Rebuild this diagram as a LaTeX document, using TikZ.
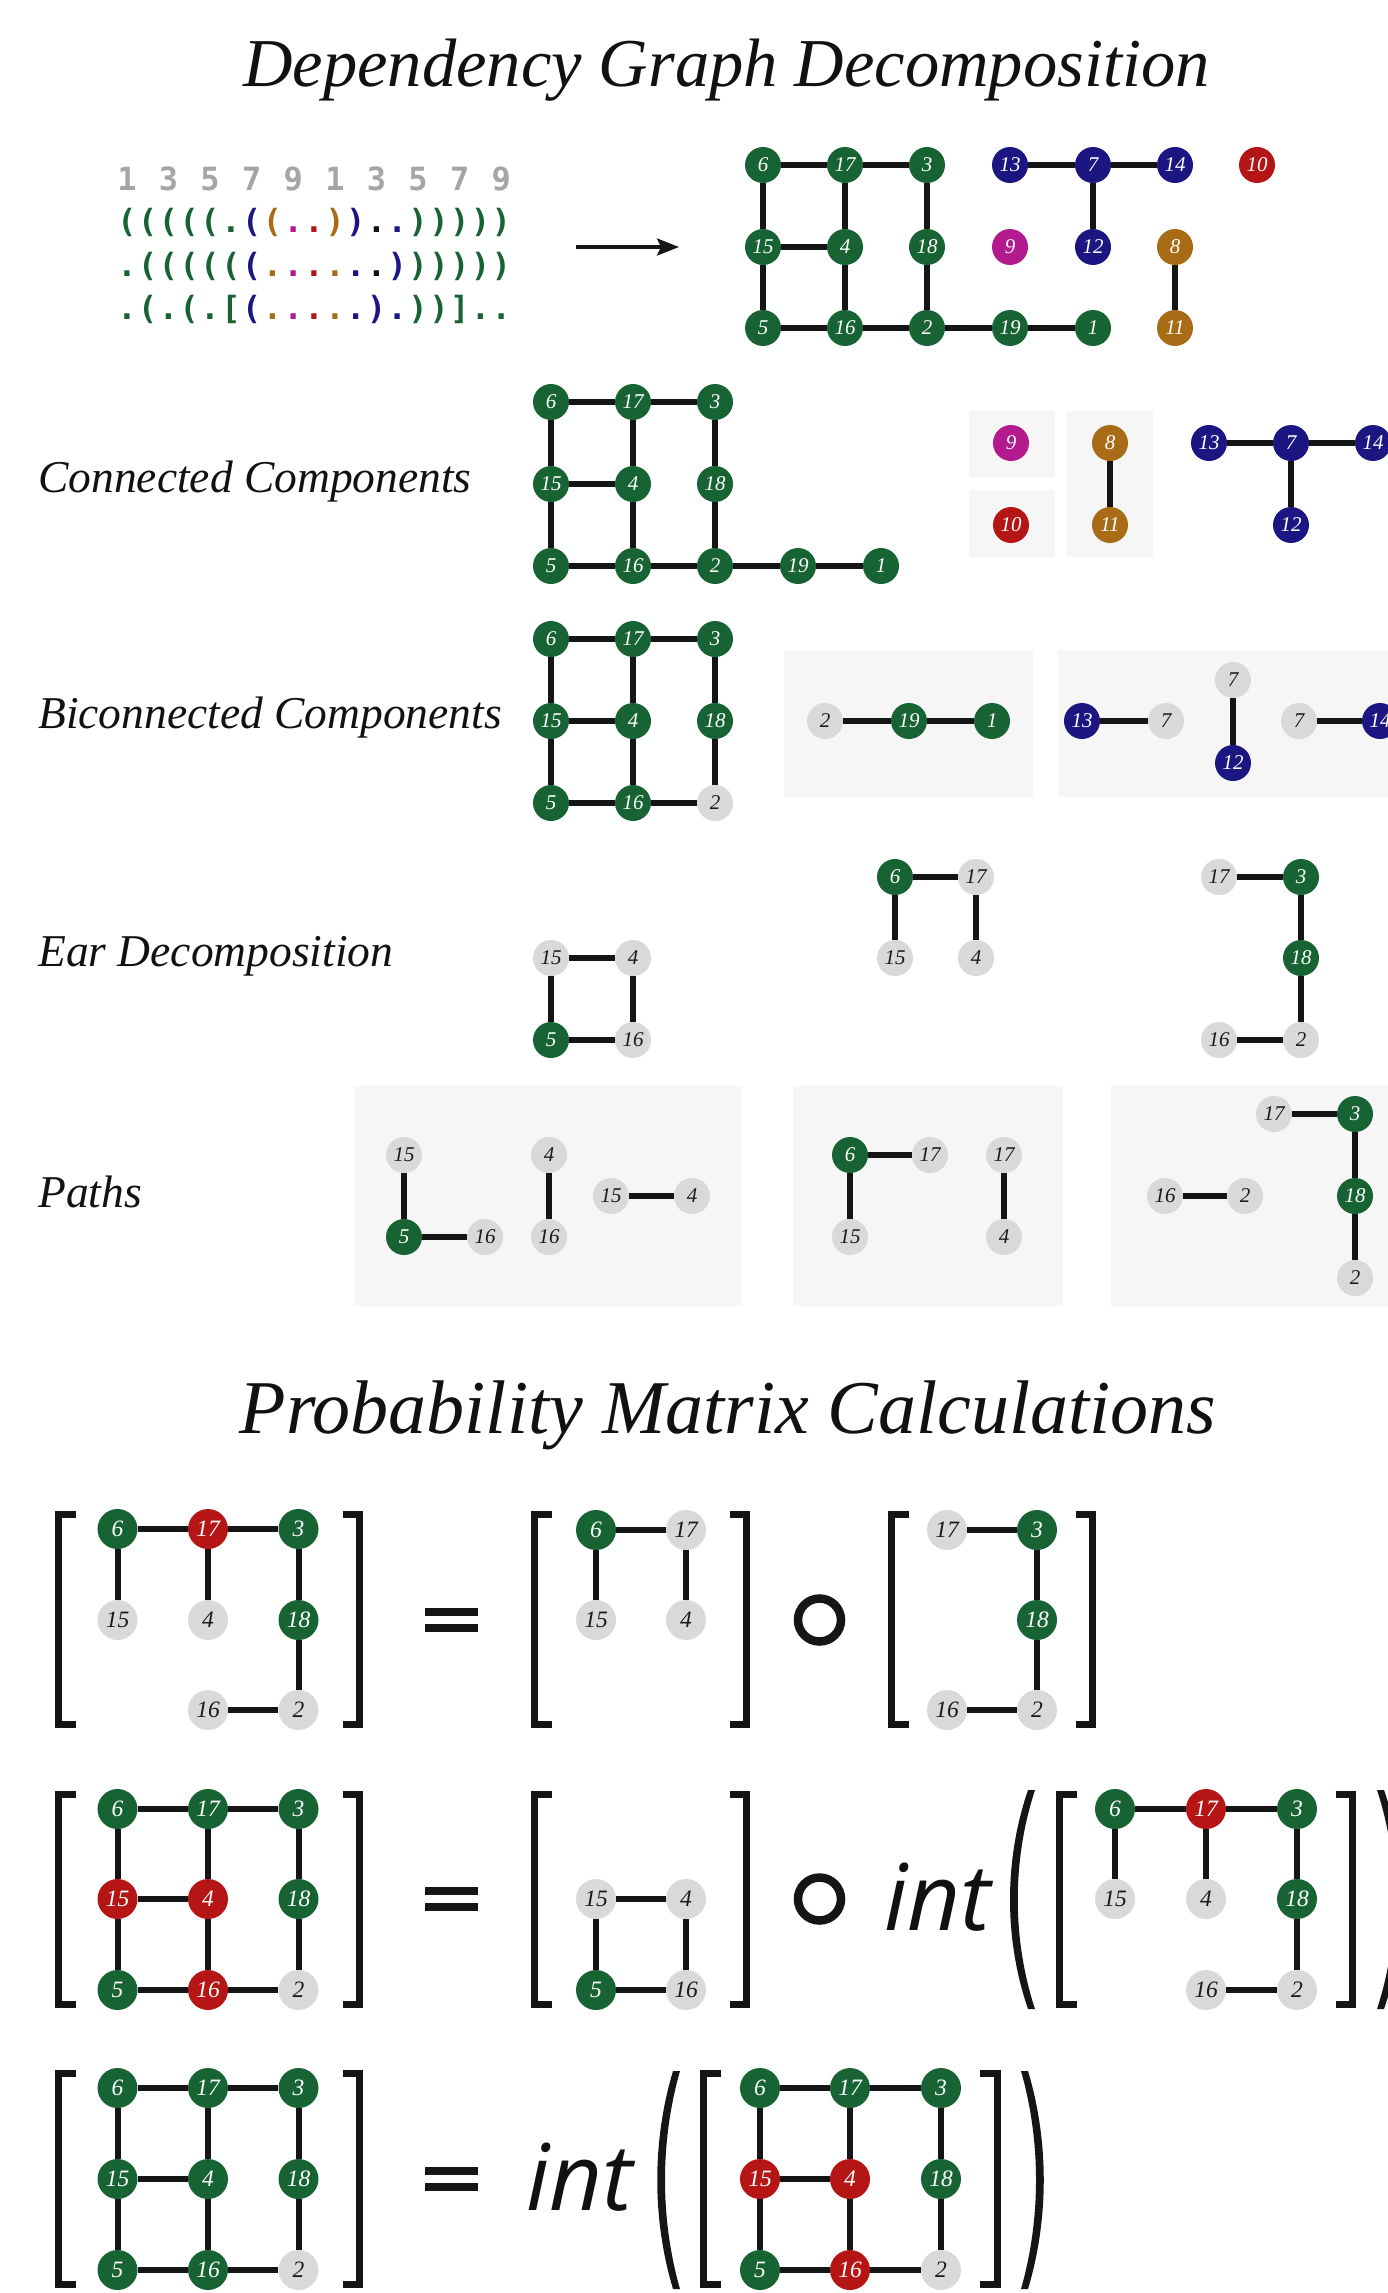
\documentclass[tikz,border=0pt]{standalone}
\usepackage{fontspec}
\setmainfont{Liberation Serif}
\newfontfamily\intfont{Open Sans}
\newfontfamily\seqfont{DejaVu Sans Mono}
\usetikzlibrary{arrows.meta}

\definecolor{cg}{HTML}{176334}
\definecolor{cb}{HTML}{1C1683}
\definecolor{cr}{HTML}{B51515}
\definecolor{cm}{HTML}{B31A8E}
\definecolor{co}{HTML}{A96C16}
\definecolor{cw}{HTML}{D9D9D9}
\definecolor{cwt}{HTML}{1A1A1A}
\definecolor{ce}{HTML}{151515}
\definecolor{cbox}{HTML}{F6F6F6}
\definecolor{ctxt}{HTML}{111111}
\definecolor{cdig}{HTML}{A5A5A5}
\definecolor{ck}{HTML}{111111}

\newcommand\sq[2]{\makebox[20.8pt]{\textcolor{#1}{#2}}}
\newcommand\edg[2]{\draw[ed] (#1) -- (#2);}
\newcommand\medg[2]{\draw[med] (#1) -- (#2);}
\newcommand\mbrk[4]{%
  \draw[brk] (#1+17,#3) -- (#1,#3) -- (#1,#4) -- (#1+17,#4);
  \draw[brk] (#2-17,#3) -- (#2,#3) -- (#2,#4) -- (#2-17,#4);}
\newcommand\eqsign[2]{%
  \fill[ce] (#1-26.5,#2-12) rectangle (#1+26.5,#2-4);
  \fill[ce] (#1-26.5,#2+4) rectangle (#1+26.5,#2+12);}
\newcommand\ring[2]{\draw[ce, line width=8.5pt] (#1,#2) circle [radius=21.5pt];}

\tikzset{
  nd/.style={circle, inner sep=0pt, minimum size=36pt, font=\fontsize{21}{21}\selectfont\itshape},
  mnd/.style={minimum size=40pt, font=\fontsize{23.5}{23.5}\selectfont\itshape},
  ngreen/.style={nd, fill=cg, text=white},
  nnavy/.style={nd, fill=cb, text=white},
  nred/.style={nd, fill=cr, text=white},
  nmag/.style={nd, fill=cm, text=white},
  nbrown/.style={nd, fill=co, text=white},
  ngray/.style={nd, fill=cw, text=cwt},
  ed/.style={draw=ce, line width=5.5pt},
  med/.style={draw=ce, line width=6pt},
  brk/.style={draw=ce, line width=7pt, miter limit=10},
  boxbg/.style={fill=cbox},
  lbl/.style={anchor=base west, inner sep=0pt, font=\fontsize{45.5}{46}\selectfont\itshape, text=ctxt},
  ttl/.style={anchor=base, inner sep=0pt, text=ctxt},
  seq/.style={anchor=base west, inner sep=0pt, font=\seqfont\bfseries\fontsize{32}{32}\selectfont},
  intl/.style={anchor=base west, inner sep=0pt, font=\intfont\itshape\fontsize{92}{92}\selectfont, text=ctxt},
  paren/.style={fill=ce},
}

\begin{document}
\begin{tikzpicture}[x=1pt,y=-1pt]
\useasboundingbox (0,0) rectangle (1388,2293);
\clip (0,0) rectangle (1388,2293);
\fill[white] (0,0) rectangle (1388,2293);

% ---------------- titles ----------------
\node[ttl, font=\fontsize{68.5}{70}\selectfont\itshape] (title1) at (726.5,87) {Dependency Graph Decomposition};
\node[ttl, font=\fontsize{76}{78}\selectfont\itshape] (title2) at (728,1433) {Probability Matrix Calculations};

% ---------------- sequence ----------------
\node[seq] (sq0) at (116.3,190) {\sq{cdig}{1}\sq{cdig}{}\sq{cdig}{3}\sq{cdig}{}\sq{cdig}{5}\sq{cdig}{}\sq{cdig}{7}\sq{cdig}{}\sq{cdig}{9}\sq{cdig}{}\sq{cdig}{1}\sq{cdig}{}\sq{cdig}{3}\sq{cdig}{}\sq{cdig}{5}\sq{cdig}{}\sq{cdig}{7}\sq{cdig}{}\sq{cdig}{9}};
\node[seq] (sq1) at (116.3,233) {\sq{cg}{(}\sq{cg}{(}\sq{cg}{(}\sq{cg}{(}\sq{cg}{(}\sq{cg}{.}\sq{cb}{(}\sq{co}{(}\sq{cm}{.}\sq{cr}{.}\sq{co}{)}\sq{cb}{)}\sq{ck}{.}\sq{cb}{.}\sq{cg}{)}\sq{cg}{)}\sq{cg}{)}\sq{cg}{)}\sq{cg}{)}};
\node[seq] (sq2) at (116.3,276) {\sq{cg}{.}\sq{cg}{(}\sq{cg}{(}\sq{cg}{(}\sq{cg}{(}\sq{cg}{(}\sq{cb}{(}\sq{co}{.}\sq{cm}{.}\sq{cr}{.}\sq{co}{.}\sq{cb}{.}\sq{ck}{.}\sq{cb}{)}\sq{cg}{)}\sq{cg}{)}\sq{cg}{)}\sq{cg}{)}\sq{cg}{)}};
\node[seq] (sq3) at (116.3,319) {\sq{cg}{.}\sq{cg}{(}\sq{cg}{.}\sq{cg}{(}\sq{cg}{.}\sq{cg}{[}\sq{cb}{(}\sq{co}{.}\sq{cm}{.}\sq{cr}{.}\sq{co}{.}\sq{cb}{.}\sq{cb}{)}\sq{cb}{.}\sq{cg}{)}\sq{cg}{)}\sq{cg}{]}\sq{cg}{.}\sq{cg}{.}};

\coordinate (arA) at (576,247);
\coordinate (arB) at (679,247);
\draw[ce, line width=3.5pt, -{Stealth[length=22pt,width=17pt,inset=4pt]}] (arA) -- (arB);

% ---------------- top graph ----------------
\node[ngreen] (t6) at (763,165) {6};
\node[ngreen] (t17) at (845,165) {17};
\node[ngreen] (t3) at (927,165) {3};
\node[nnavy] (t13) at (1010,165) {13};
\node[nnavy] (t7) at (1093,165) {7};
\node[nnavy] (t14) at (1175,165) {14};
\node[nred] (t10) at (1257,165) {10};
\node[ngreen] (t15) at (763,247) {15};
\node[ngreen] (t4) at (845,247) {4};
\node[ngreen] (t18) at (927,247) {18};
\node[nmag] (t9) at (1010,247) {9};
\node[nnavy] (t12) at (1093,247) {12};
\node[nbrown] (t8) at (1175,247) {8};
\node[ngreen] (t5) at (763,328) {5};
\node[ngreen] (t16) at (845,328) {16};
\node[ngreen] (t2) at (927,328) {2};
\node[ngreen] (t19) at (1010,328) {19};
\node[ngreen] (t1) at (1093,328) {1};
\node[nbrown] (t11) at (1175,328) {11};
\edg{t6}{t17}\edg{t17}{t3}\edg{t15}{t4}\edg{t5}{t16}\edg{t16}{t2}\edg{t2}{t19}\edg{t19}{t1}
\edg{t6}{t15}\edg{t15}{t5}\edg{t17}{t4}\edg{t4}{t16}\edg{t3}{t18}\edg{t18}{t2}
\edg{t13}{t7}\edg{t7}{t14}\edg{t7}{t12}\edg{t8}{t11}

% ---------------- connected components ----------------
\node[lbl] (lab1) at (38,492) {Connected Components};
\fill[boxbg] (969,411) rectangle (1055,477);
\fill[boxbg] (969,490) rectangle (1055,557);
\fill[boxbg] (1066,411) rectangle (1153,557);
\node[ngreen] (c6) at (551,402) {6};
\node[ngreen] (c17) at (633,402) {17};
\node[ngreen] (c3) at (715,402) {3};
\node[ngreen] (c15) at (551,484) {15};
\node[ngreen] (c4) at (633,484) {4};
\node[ngreen] (c18) at (715,484) {18};
\node[ngreen] (c5) at (551,566) {5};
\node[ngreen] (c16) at (633,566) {16};
\node[ngreen] (c2) at (715,566) {2};
\node[ngreen] (c19) at (798,566) {19};
\node[ngreen] (c1) at (881,566) {1};
\node[nmag] (c9) at (1011,443) {9};
\node[nred] (c10) at (1011,525) {10};
\node[nbrown] (c8) at (1110,443) {8};
\node[nbrown] (c11) at (1110,525) {11};
\node[nnavy] (c13) at (1209,443) {13};
\node[nnavy] (c7) at (1291,443) {7};
\node[nnavy] (c14) at (1373,443) {14};
\node[nnavy] (c12) at (1291,525) {12};
\edg{c6}{c17}\edg{c17}{c3}\edg{c15}{c4}\edg{c5}{c16}\edg{c16}{c2}\edg{c2}{c19}\edg{c19}{c1}
\edg{c6}{c15}\edg{c15}{c5}\edg{c17}{c4}\edg{c4}{c16}\edg{c3}{c18}\edg{c18}{c2}
\edg{c8}{c11}\edg{c13}{c7}\edg{c7}{c14}\edg{c7}{c12}

% ---------------- biconnected components ----------------
\node[lbl] (lab2) at (38,728) {Biconnected Components};
\fill[boxbg] (784,650) rectangle (1033,797);
\fill[boxbg] (1058,650) rectangle (1388,797);
\node[ngreen] (b6) at (551,639) {6};
\node[ngreen] (b17) at (633,639) {17};
\node[ngreen] (b3) at (715,639) {3};
\node[ngreen] (b15) at (551,721) {15};
\node[ngreen] (b4) at (633,721) {4};
\node[ngreen] (b18) at (715,721) {18};
\node[ngreen] (b5) at (551,803) {5};
\node[ngreen] (b16) at (633,803) {16};
\node[ngray] (b2) at (715,803) {2};
\edg{b6}{b17}\edg{b17}{b3}\edg{b15}{b4}\edg{b5}{b16}\edg{b16}{b2}
\edg{b6}{b15}\edg{b15}{b5}\edg{b17}{b4}\edg{b4}{b16}\edg{b3}{b18}\edg{b18}{b2}
\node[ngray] (bx2) at (825,721) {2};
\node[ngreen] (b19) at (909,721) {19};
\node[ngreen] (b1) at (992,721) {1};
\edg{bx2}{b19}\edg{b19}{b1}
\node[nnavy] (b13) at (1082,721) {13};
\node[ngray] (b7a) at (1166,721) {7};
\node[ngray] (b7b) at (1233,680) {7};
\node[nnavy] (b12) at (1233,763) {12};
\node[ngray] (b7c) at (1299,721) {7};
\node[nnavy] (b14) at (1380,721) {14};
\edg{b13}{b7a}\edg{b7b}{b12}\edg{b7c}{b14}

% ---------------- ear decomposition ----------------
\node[lbl] (lab3) at (38,966) {Ear Decomposition};
\node[ngray] (e15) at (551,958) {15};
\node[ngray] (e4) at (633,958) {4};
\node[ngreen] (e5) at (551,1040) {5};
\node[ngray] (e16) at (633,1040) {16};
\edg{e15}{e4}\edg{e15}{e5}\edg{e4}{e16}\edg{e5}{e16}
\node[ngreen] (f6) at (895,877) {6};
\node[ngray] (f17) at (976,877) {17};
\node[ngray] (f15) at (895,958) {15};
\node[ngray] (f4) at (976,958) {4};
\edg{f6}{f17}\edg{f6}{f15}\edg{f17}{f4}
\node[ngray] (h17) at (1219,877) {17};
\node[ngreen] (h3) at (1301,877) {3};
\node[ngreen] (h18) at (1301,958) {18};
\node[ngray] (h16) at (1219,1040) {16};
\node[ngray] (h2) at (1301,1040) {2};
\edg{h17}{h3}\edg{h3}{h18}\edg{h18}{h2}\edg{h16}{h2}

% ---------------- paths ----------------
\node[lbl] (lab4) at (38,1207) {Paths};
\fill[boxbg] (354,1086) rectangle (742,1306);
\fill[boxbg] (793,1086) rectangle (1063,1306);
\fill[boxbg] (1111,1086) rectangle (1388,1306);
\node[ngray] (pa15) at (404,1155) {15};
\node[ngreen] (pa5) at (404,1237) {5};
\node[ngray] (pa16) at (485,1237) {16};
\node[ngray] (pb4) at (549,1155) {4};
\node[ngray] (pb16) at (549,1237) {16};
\node[ngray] (pc15) at (611,1196) {15};
\node[ngray] (pc4) at (692,1196) {4};
\edg{pa15}{pa5}\edg{pa5}{pa16}\edg{pb4}{pb16}\edg{pc15}{pc4}
\node[ngreen] (pd6) at (850,1155) {6};
\node[ngray] (pd17) at (930,1155) {17};
\node[ngray] (pd15) at (850,1237) {15};
\node[ngray] (pe17) at (1004,1155) {17};
\node[ngray] (pe4) at (1004,1237) {4};
\edg{pd6}{pd17}\edg{pd6}{pd15}\edg{pe17}{pe4}
\node[ngray] (pf17) at (1274,1114) {17};
\node[ngreen] (pf3) at (1355,1114) {3};
\node[ngreen] (pf18) at (1355,1196) {18};
\node[ngray] (pf2) at (1355,1278) {2};
\node[ngray] (pg16) at (1165,1196) {16};
\node[ngray] (pg2) at (1245,1196) {2};
\edg{pf17}{pf3}\edg{pf3}{pf18}\edg{pf18}{pf2}\edg{pg16}{pg2}

% ---------------- matrix row 1 ----------------
\mbrk{58.5}{359.5}{1514.5}{1724.5}
\node[ngreen,mnd] (ma6) at (117.5,1529) {6};
\node[nred,mnd] (ma17) at (208,1529) {17};
\node[ngreen,mnd] (ma3) at (298.5,1529) {3};
\node[ngray,mnd] (ma15) at (117.5,1620) {15};
\node[ngray,mnd] (ma4) at (208,1620) {4};
\node[ngreen,mnd] (ma18) at (298.5,1620) {18};
\node[ngray,mnd] (ma16) at (208,1710) {16};
\node[ngray,mnd] (ma2) at (298.5,1710) {2};
\medg{ma6}{ma17}\medg{ma17}{ma3}\medg{ma6}{ma15}\medg{ma17}{ma4}\medg{ma3}{ma18}\medg{ma18}{ma2}\medg{ma16}{ma2}
\eqsign{451.5}{1620}
\mbrk{534.5}{746.5}{1514.5}{1724.5}
\node[ngreen,mnd] (mb6) at (596,1530) {6};
\node[ngray,mnd] (mb17) at (686,1530) {17};
\node[ngray,mnd] (mb15) at (596,1620) {15};
\node[ngray,mnd] (mb4) at (686,1620) {4};
\medg{mb6}{mb17}\medg{mb6}{mb15}\medg{mb17}{mb4}
\ring{819.5}{1620}
\mbrk{891.5}{1092.5}{1514.5}{1724.5}
\node[ngray,mnd] (mc17) at (947,1530) {17};
\node[ngreen,mnd] (mc3) at (1037,1530) {3};
\node[ngreen,mnd] (mc18) at (1037,1620) {18};
\node[ngray,mnd] (mc16) at (947,1710) {16};
\node[ngray,mnd] (mc2) at (1037,1710) {2};
\medg{mc17}{mc3}\medg{mc3}{mc18}\medg{mc18}{mc2}\medg{mc16}{mc2}

% ---------------- matrix row 2 ----------------
\mbrk{58.5}{359.5}{1794.5}{2004.5}
\node[ngreen,mnd] (md6) at (117.5,1809) {6};
\node[ngreen,mnd] (md17) at (208,1809) {17};
\node[ngreen,mnd] (md3) at (298.5,1809) {3};
\node[nred,mnd] (md15) at (117.5,1899) {15};
\node[nred,mnd] (md4) at (208,1899) {4};
\node[ngreen,mnd] (md18) at (298.5,1899) {18};
\node[ngreen,mnd] (md5) at (117.5,1990) {5};
\node[nred,mnd] (md16) at (208,1990) {16};
\node[ngray,mnd] (md2) at (298.5,1990) {2};
\medg{md6}{md17}\medg{md17}{md3}\medg{md15}{md4}\medg{md5}{md16}\medg{md16}{md2}
\medg{md6}{md15}\medg{md15}{md5}\medg{md17}{md4}\medg{md4}{md16}\medg{md3}{md18}\medg{md18}{md2}
\eqsign{451.5}{1899}
\mbrk{534.5}{746.5}{1794.5}{2004.5}
\node[ngray,mnd] (me15) at (596,1899) {15};
\node[ngray,mnd] (me4) at (686,1899) {4};
\node[ngreen,mnd] (me5) at (596,1990) {5};
\node[ngray,mnd] (me16) at (686,1990) {16};
\medg{me15}{me4}\medg{me15}{me5}\medg{me4}{me16}\medg{me5}{me16}
\ring{819.5}{1899}
\node[intl] (int1) at (884,1930) {int};
\fill[paren] (1028,1790) .. controls (1004,1860) and (1004,1939) .. (1028,2009) -- (1035,2009) .. controls (1012,1939) and (1012,1860) .. (1035,1790) -- cycle;
\fill[paren] (1384,1790) .. controls (1408,1860) and (1408,1939) .. (1384,2009) -- (1377,2009) .. controls (1400,1939) and (1400,1860) .. (1377,1790) -- cycle;
\mbrk{1059.5}{1352.5}{1794.5}{2004.5}
\node[ngreen,mnd] (mf6) at (1115,1809) {6};
\node[nred,mnd] (mf17) at (1206,1809) {17};
\node[ngreen,mnd] (mf3) at (1297,1809) {3};
\node[ngray,mnd] (mf15) at (1115,1899) {15};
\node[ngray,mnd] (mf4) at (1206,1899) {4};
\node[ngreen,mnd] (mf18) at (1297,1899) {18};
\node[ngray,mnd] (mf16) at (1206,1990) {16};
\node[ngray,mnd] (mf2) at (1297,1990) {2};
\medg{mf6}{mf17}\medg{mf17}{mf3}\medg{mf6}{mf15}\medg{mf17}{mf4}\medg{mf3}{mf18}\medg{mf18}{mf2}\medg{mf16}{mf2}

% ---------------- matrix row 3 ----------------
\mbrk{58.5}{359.5}{2073.5}{2284.5}
\node[ngreen,mnd] (mg6) at (117.5,2088) {6};
\node[ngreen,mnd] (mg17) at (208,2088) {17};
\node[ngreen,mnd] (mg3) at (298.5,2088) {3};
\node[ngreen,mnd] (mg15) at (117.5,2179) {15};
\node[ngreen,mnd] (mg4) at (208,2179) {4};
\node[ngreen,mnd] (mg18) at (298.5,2179) {18};
\node[ngreen,mnd] (mg5) at (117.5,2270) {5};
\node[ngreen,mnd] (mg16) at (208,2270) {16};
\node[ngray,mnd] (mg2) at (298.5,2270) {2};
\medg{mg6}{mg17}\medg{mg17}{mg3}\medg{mg15}{mg4}\medg{mg5}{mg16}\medg{mg16}{mg2}
\medg{mg6}{mg15}\medg{mg15}{mg5}\medg{mg17}{mg4}\medg{mg4}{mg16}\medg{mg3}{mg18}\medg{mg18}{mg2}
\eqsign{451.5}{2179}
\node[intl] (int2) at (526,2210) {int};
\fill[paren] (673,2071) .. controls (652,2141) and (652,2219) .. (673,2289) -- (680,2289) .. controls (660,2219) and (660,2141) .. (680,2071) -- cycle;
\fill[paren] (1028,2071) .. controls (1049,2141) and (1049,2219) .. (1028,2289) -- (1021,2289) .. controls (1041,2219) and (1041,2141) .. (1021,2071) -- cycle;
\mbrk{703.5}{997}{2073.5}{2284.5}
\node[ngreen,mnd] (mh6) at (760,2088) {6};
\node[ngreen,mnd] (mh17) at (850,2088) {17};
\node[ngreen,mnd] (mh3) at (941,2088) {3};
\node[nred,mnd] (mh15) at (760,2179) {15};
\node[nred,mnd] (mh4) at (850,2179) {4};
\node[ngreen,mnd] (mh18) at (941,2179) {18};
\node[ngreen,mnd] (mh5) at (760,2270) {5};
\node[nred,mnd] (mh16) at (850,2270) {16};
\node[ngray,mnd] (mh2) at (941,2270) {2};
\medg{mh6}{mh17}\medg{mh17}{mh3}\medg{mh15}{mh4}\medg{mh5}{mh16}\medg{mh16}{mh2}
\medg{mh6}{mh15}\medg{mh15}{mh5}\medg{mh17}{mh4}\medg{mh4}{mh16}\medg{mh3}{mh18}\medg{mh18}{mh2}
\end{tikzpicture}
\end{document}
